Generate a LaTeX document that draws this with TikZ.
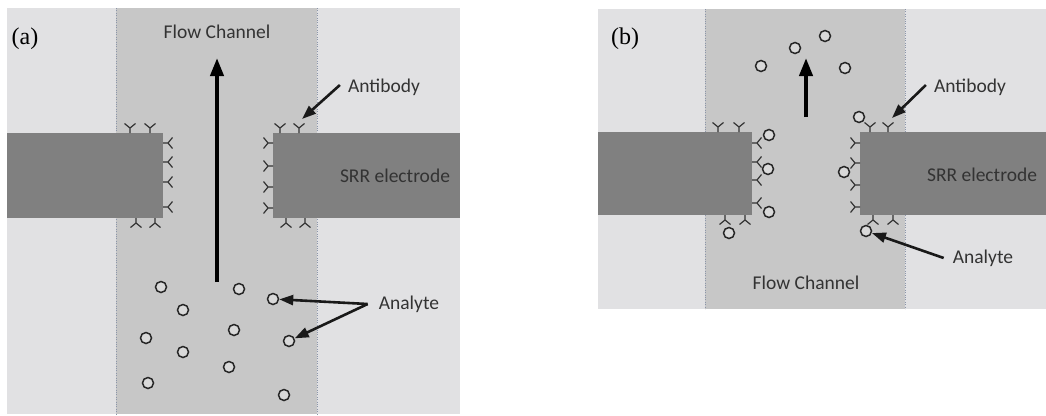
\documentclass[tikz,border=0pt]{standalone}
\usepackage{fontspec}
\setmainfont{Liberation Serif}
\newfontfamily\labelfont{Carlito}
\usetikzlibrary{arrows.meta}
\definecolor{panelgray}{HTML}{E1E1E3}
\definecolor{channelgray}{HTML}{C7C7C7}
\definecolor{electrodegray}{HTML}{808080}
\definecolor{edgeblue}{HTML}{8C96AA}
\definecolor{textgray}{HTML}{333333}
\begin{document}
\begin{tikzpicture}[x=1pt, y=-1pt,
  lbl/.style={font=\labelfont\fontsize{19.5}{22}\selectfont, text=textgray, inner sep=1pt},
  panel/.style={font=\fontsize{24}{26}\selectfont, inner sep=0pt},
  flow/.style={line width=4pt, -{Triangle[length=18pt,width=13pt]}},
  note/.style={line width=2.6pt, black!90, -{Triangle[length=14pt,width=10pt]}},
  abline/.style={line width=1.2pt, black!80},
  analyte/.style={circle, draw=black!85, fill=gray!30, line width=1.5pt, minimum size=11pt, inner sep=0pt},
  antibody/.pic={\draw[abline] (0,0) -- (0,-5) -- (-5.5,-9.5) (0,-5) -- (5.5,-9.5);}]
\useasboundingbox (0,0) rectangle (1046,415);

% (a)
\fill[panelgray] (7,8) rectangle (460,414);
\fill[channelgray] (116,8) rectangle (317,414);
\draw[edgeblue, dotted] (116,8) -- (116,414) (317,8) -- (317,414);
\fill[electrodegray] (7,133) rectangle (163,218);
\fill[electrodegray] (273,133) rectangle (460,218);

\foreach \x in {130,150} \pic at (\x,133) {antibody};
\foreach \x in {136,155} \pic[rotate=180] at (\x,218) {antibody};
\foreach \y in {143,162,182,207} \pic[rotate=-90] at (163,\y) {antibody};
\foreach \y in {143,166,187,208} \pic[rotate=90] at (273,\y) {antibody};
\foreach \x in {280,299} \pic at (\x,133) {antibody};
\foreach \x in {286,305} \pic[rotate=180] at (\x,218) {antibody};

\foreach \n/\x/\y in {1/161/287, 2/239/289, 3/273/299, 4/183/310, 5/146/338, 6/234/330,
                      7/289/341, 8/183/352, 9/229/367, 10/148/383, 11/284/395}
  \node[analyte] (ca\n) at (\x,\y) {};

\node[panel] (tagA) at (25,39) {(a)};
\node[lbl] (chanA) at (217,32) {Flow Channel};
\node[lbl] (abA) at (384,87) {Antibody};
\node[lbl] (srrA) at (395,176) {SRR electrode};
\node[lbl] (anA) at (409,304) {Analyte};

\coordinate (flowA0) at (217,282);
\coordinate (flowA1) at (217,58);
\draw[flow] (flowA0) -- (flowA1);
\coordinate (abtipA) at (302,119);
\draw[note] ([xshift=-7pt,yshift=2pt]abA.west) -- (abtipA);
\draw[note] ([xshift=-10pt]anA.west) -- (ca3);
\draw[note] ([xshift=-10pt]anA.west) -- (ca7);

% (b)
\fill[panelgray] (598,9) rectangle (1046,309);
\fill[channelgray] (705,9) rectangle (905,309);
\draw[edgeblue, dotted] (705,9) -- (705,309) (905,9) -- (905,309);
\fill[electrodegray] (598,132) rectangle (752,215);
\fill[electrodegray] (860,132) rectangle (1046,215);

\foreach \x in {718,739} \pic at (\x,132) {antibody};
\foreach \x in {725,745} \pic[rotate=180] at (\x,215) {antibody};
\foreach \y in {143,162,180,203} \pic[rotate=-90] at (752,\y) {antibody};
\foreach \y in {143,163,185,207} \pic[rotate=90] at (860,\y) {antibody};
\foreach \x in {870,888} \pic at (\x,132) {antibody};
\foreach \x in {873,893} \pic[rotate=180] at (\x,215) {antibody};

\foreach \n/\x/\y in {1/761/66, 2/795/48, 3/825/36, 4/845/68, 5/769/135, 6/768/169,
                      7/769/212, 8/729/233, 9/859/117, 10/844/172, 11/866/231}
  \node[analyte] (cb\n) at (\x,\y) {};

\node[panel] (tagB) at (625,39) {(b)};
\node[lbl] (chanB) at (806,283) {Flow Channel};
\node[lbl] (abB) at (970,87) {Antibody};
\node[lbl] (srrB) at (982,175) {SRR electrode};
\node[lbl] (anB) at (983,258) {Analyte};

\coordinate (flowB0) at (806,117);
\coordinate (flowB1) at (806,58);
\draw[flow] (flowB0) -- (flowB1);
\coordinate (abtipB) at (892,118);
\draw[note] ([xshift=-7pt,yshift=2pt]abB.west) -- (abtipB);
\draw[note] ([xshift=-8pt]anB.west) -- (cb11);
\end{tikzpicture}
\end{document}
